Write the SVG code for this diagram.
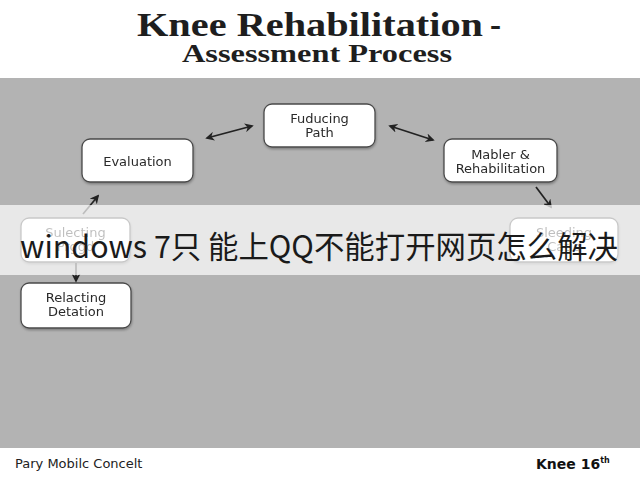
<svg xmlns="http://www.w3.org/2000/svg" width="640" height="480" viewBox="0 0 640 480">
<defs>
<style>
.node rect{fill:#ffffff;stroke:#4a4a4a;stroke-width:1.3}
.node text{font-family:"DejaVu Sans","Liberation Sans",sans-serif;font-size:13px;fill:#2a2a2a;text-anchor:middle}
.conn line{stroke:#222;stroke-width:1.7;fill:none}
.title{font-family:"Liberation Serif",serif;font-weight:bold;fill:#1e1e1e}
</style>
<marker id="ah" viewBox="0 0 10 10" refX="8" refY="5" markerWidth="9" markerHeight="9" orient="auto-start-reverse" markerUnits="userSpaceOnUse">
<path d="M0,0 L10,5 L0,10 L3,5 z" fill="#222"/>
</marker>
<filter id="sh" x="-10%" y="-10%" width="130%" height="140%">
<feDropShadow dx="0.5" dy="1.5" stdDeviation="1.2" flood-color="#000" flood-opacity="0.3"/>
</filter>
</defs>
<rect x="0" y="0" width="640" height="480" fill="#ffffff"/>
<rect x="0" y="78" width="640" height="370" fill="#b3b3b3"/>
<text class="title" x="137" y="36" font-size="33" textLength="346" lengthAdjust="spacingAndGlyphs">Knee Rehabilitation</text>
<text class="title" x="490" y="36" font-size="33">-</text>
<text class="title" x="182" y="62" font-size="25" textLength="270" lengthAdjust="spacingAndGlyphs">Assessment Process</text>

<g id="evaluation" class="node" filter="url(#sh)">
<rect x="82" y="139" width="111" height="43" rx="8"/>
<text x="137.5" y="165.5">Evaluation</text>
</g>
<g id="fuducing" class="node" filter="url(#sh)">
<rect x="264" y="104" width="111" height="43" rx="8"/>
<text x="319.5" y="123">Fuducing</text>
<text x="319.5" y="137">Path</text>
</g>
<g id="mabler" class="node" filter="url(#sh)">
<rect x="444" y="139" width="113" height="43" rx="8"/>
<text x="500.5" y="159">Mabler &amp;</text>
<text x="500.5" y="173">Rehabilitation</text>
</g>
<g id="selecting" class="node" filter="url(#sh)">
<rect x="21" y="218" width="109" height="44" rx="8"/>
<text x="75.5" y="237">Sulecting</text>
<text x="75.5" y="251">Prggd</text>
</g>
<g id="sleeding" class="node" filter="url(#sh)">
<rect x="510" y="218" width="108" height="44" rx="8"/>
<text x="564" y="237">Sleeding</text>
<text x="564" y="251">Catio</text>
</g>
<g id="relacting" class="node" filter="url(#sh)">
<rect x="21" y="283" width="110" height="45" rx="8"/>
<text x="76" y="302">Relacting</text>
<text x="76" y="316">Detation</text>
</g>

<g id="connectors" class="conn">
<line x1="207" y1="138" x2="252" y2="126" marker-start="url(#ah)" marker-end="url(#ah)"/>
<line x1="390" y1="126" x2="433" y2="140" marker-start="url(#ah)" marker-end="url(#ah)"/>
<line x1="536" y1="187" x2="551" y2="207" marker-end="url(#ah)"/>
<line x1="83" y1="214" x2="98" y2="196" marker-end="url(#ah)"/>
<line x1="76" y1="263" x2="76" y2="281" marker-end="url(#ah)"/>
</g>

<rect x="0" y="205" width="640" height="70" fill="#ffffff" fill-opacity="0.7"/>
<text x="20" y="258" font-family="'Noto Sans CJK SC','Noto Sans',sans-serif" font-weight="400" font-size="31" fill="#1a1a1a" textLength="598" lengthAdjust="spacingAndGlyphs">windows 7只 能上QQ不能打开网页怎么解决</text>

<text x="15" y="468" font-family="'DejaVu Sans','Liberation Sans',sans-serif" font-size="13" fill="#222">Pary Mobilc Concelt</text>
<text x="536" y="469" font-family="'DejaVu Sans','Liberation Sans',sans-serif" font-size="14" font-weight="bold" fill="#111">Knee 16<tspan font-size="8" dy="-6">th</tspan></text>
</svg>
